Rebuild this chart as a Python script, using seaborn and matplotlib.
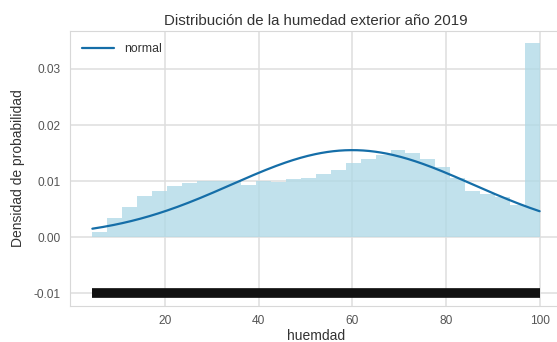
import numpy as np
import pandas as pd
import matplotlib
matplotlib.use("Agg")
import matplotlib.pyplot as plt
import seaborn as sns

# Outdoor humidity 2019: density per histogram bin (30 equal bins)
hum_min, hum_max = 4.5, 100.0
densities = [0.0010, 0.0034, 0.0054, 0.0073, 0.0082, 0.0092, 0.0097, 0.0101,
             0.0101, 0.0101, 0.0093, 0.0100, 0.0098, 0.0104, 0.0106, 0.0112,
             0.0120, 0.0132, 0.0140, 0.0147, 0.0155, 0.0150, 0.0140, 0.0126,
             0.0105, 0.0083, 0.0077, 0.0071, 0.0058, 0.0346]
# fitted normal distribution parameters
mu, sigma = 60.0, 25.7
rug_level = -0.01
x_ticks = [20, 40, 60, 80, 100]
y_ticks = [-0.01, 0.00, 0.01, 0.02, 0.03]

title = "Distribución de la humedad exterior año 2019"
x_label = "huemdad"
y_label = "Densidad de probabilidad"
legend_label = "normal"

sns.set_style("whitegrid", {
    "grid.color": "#dedede",
    "axes.edgecolor": "#d8d8d8",
    "axes.linewidth": 1.0,
})
plt.rcParams["font.family"] = ["Liberation Sans", "DejaVu Sans"]

edges = np.linspace(hum_min, hum_max, len(densities) + 1)
centers = (edges[:-1] + edges[1:]) / 2
hist_df = pd.DataFrame({"humedad": centers, "densidad": densities})

xs = np.linspace(hum_min, hum_max, 300)
pdf = np.exp(-0.5 * ((xs - mu) / sigma) ** 2) / (sigma * np.sqrt(2 * np.pi))
curve_df = pd.DataFrame({"humedad": xs, "densidad": pdf})

fig = plt.figure(figsize=(5.57, 3.42), dpi=100)
ax = fig.add_axes([70 / 557, 36.3 / 342, 492 / 557, 275 / 342])

sns.histplot(data=hist_df, x="humedad", weights="densidad",
             bins=edges.tolist(), color="#add8e6", alpha=0.75,
             edgecolor="none", linewidth=0, ax=ax)
sns.lineplot(data=curve_df, x="humedad", y="densidad", color="#156ea8",
             linewidth=1.6, label=legend_label, ax=ax)
# observations drawn along a strip below zero
ax.plot(edges, np.full_like(edges, rug_level), color="#111111", linewidth=7,
        solid_capstyle="butt", zorder=3)

ax.set_xticks(x_ticks)
ax.set_yticks(y_ticks)
ax.yaxis.set_major_formatter(matplotlib.ticker.FormatStrFormatter("%.2f"))
ax.tick_params(labelsize=8.6, colors="#555555", length=0, pad=7)
ax.set_title(title, fontsize=10.8, color="#333333", pad=4)
ax.set_xlabel(x_label, fontsize=10, color="#333333", labelpad=1)
ax.set_ylabel(y_label, fontsize=10, color="#333333", labelpad=6)
ax.grid(True, linewidth=1.1)
ax.set_axisbelow(True)

leg = ax.legend(loc="upper left", frameon=False, fontsize=8.8,
                handlelength=2.6, borderaxespad=0.6)
for t in leg.get_texts():
    t.set_color("#333333")

fig.savefig("out.png", dpi=100)
